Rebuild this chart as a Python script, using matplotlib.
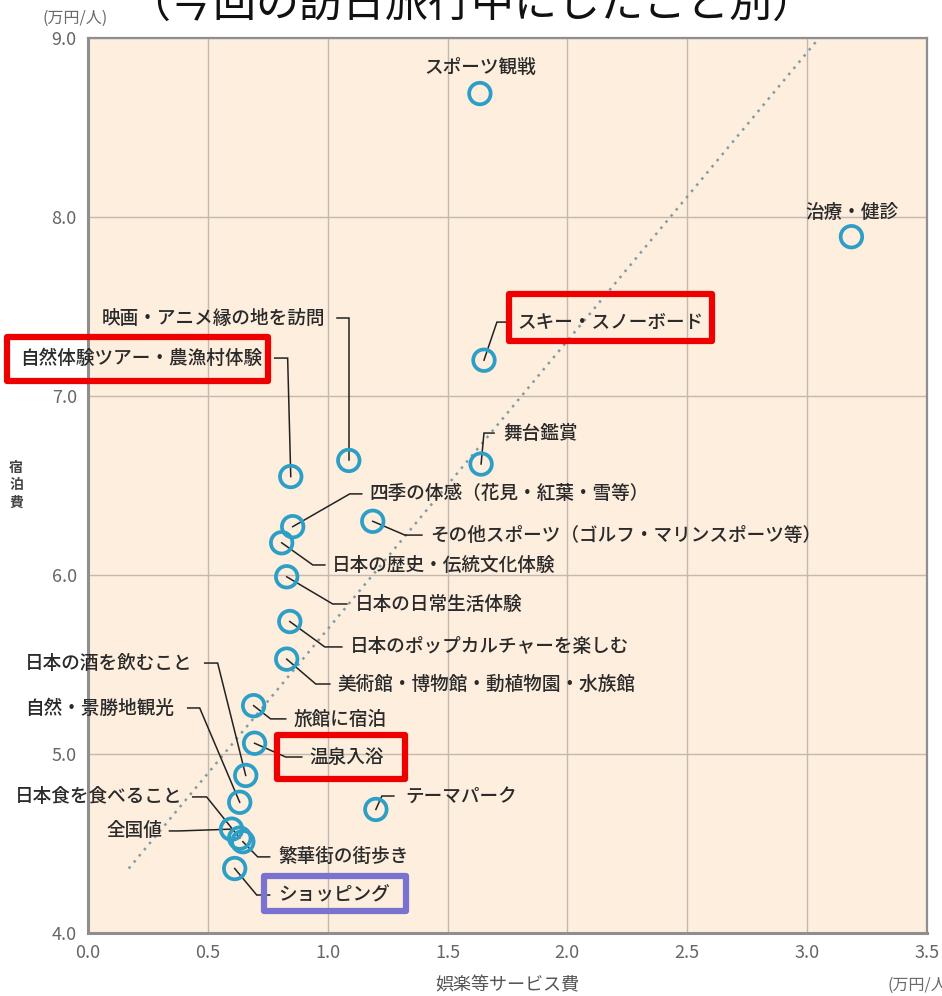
import matplotlib
matplotlib.use("Agg")
import matplotlib.pyplot as plt
from matplotlib.patches import Rectangle

plt.rcParams['font.family'] = ['Noto Sans CJK JP', 'DejaVu Sans']

# ---------------- data ----------------
names = [
    "スポーツ観戦", "治療・健診", "スキー・スノーボード", "映画・アニメ縁の地を訪問",
    "自然体験ツアー・農漁村体験", "舞台鑑賞", "四季の体感（花見・紅葉・雪等）",
    "その他スポーツ（ゴルフ・マリンスポーツ等）", "日本の歴史・伝統文化体験",
    "日本の日常生活体験", "日本のポップカルチャーを楽しむ",
    "美術館・博物館・動植物園・水族館", "旅館に宿泊", "温泉入浴", "テーマパーク",
    "日本の酒を飲むこと", "自然・景勝地観光", "日本食を食べること", "全国値",
    "繁華街の街歩き", "ショッピング",
]
entertainment = [1.635, 3.185, 1.652, 1.088, 0.846, 1.640, 0.854, 1.188, 0.808,
                 0.829, 0.842, 0.829, 0.691, 0.695, 1.201, 0.658, 0.633, 0.633,
                 0.599, 0.646, 0.612]
lodging = [8.69, 7.89, 7.20, 6.64, 6.55, 6.62, 6.27, 6.30, 6.18,
           5.99, 5.74, 5.53, 5.27, 5.06, 4.69, 4.88, 4.73, 4.53,
           4.58, 4.51, 4.36]

trend_x = [0.17, 3.05]
trend_y = [4.36, 9.0]

x_ticks = [0.0, 0.5, 1.0, 1.5, 2.0, 2.5, 3.0, 3.5]
y_ticks = [4.0, 5.0, 6.0, 7.0, 8.0, 9.0]

# ---------------- layout (label anchors, leader stubs) ----------------
# (text_x, text_y, ha, stub_start_x, stub_end_x) ; stub None => no leader
layout = [
    (1.635, 8.838, 'center', None, None),
    (3.185, 8.028, 'center', None, None),
    (1.790, 7.413, 'left', 1.752, 1.706),
    (0.988, 7.436, 'right', 1.038, 1.088),
    (0.725, 7.212, 'right', 0.779, 0.833),
    (1.731, 6.793, 'left', 1.694, 1.652),
    (1.176, 6.453, 'left', 1.142, 1.092),
    (1.426, 6.223, 'left', 1.393, 1.322),
    (1.017, 6.056, 'left', 0.988, 0.938),
    (1.113, 5.838, 'left', 1.080, 1.021),
    (1.092, 5.598, 'left', 1.059, 0.988),
    (1.042, 5.391, 'left', 1.009, 0.950),
    (0.858, 5.196, 'left', 0.825, 0.762),
    (0.925, 4.983, 'left', 0.892, 0.825),
    (1.322, 4.765, 'left', 1.276, 1.226),
    (0.437, 5.508, 'right', 0.487, 0.541),
    (0.361, 5.257, 'right', 0.416, 0.466),
    (0.395, 4.760, 'right', 0.437, 0.495),
    (0.311, 4.570, 'right', 0.340, 0.380),
    (0.792, 4.425, 'left', 0.758, 0.708),
    (0.792, 4.212, 'left', 0.758, 0.704),
]
# highlight boxes: (x0, y0, x1, y1, color)
boxes = [
    (1.757, 7.307, 2.605, 7.570, '#ee0000'),
    (-0.336, 7.084, 0.750, 7.330, '#ee0000'),
    (0.787, 4.860, 1.322, 5.106, '#ee0000'),
    (0.733, 4.123, 1.326, 4.318, '#7a72cf'),
]

# ---------------- figure ----------------
fig = plt.figure(figsize=(9.42, 9.96), dpi=100)
ax = fig.add_axes([0.0934, 0.0633, 0.8906, 0.8985])
ax.set_facecolor('#fdeede')
ax.set_xlim(0, 3.5)
ax.set_ylim(4.0, 9.0)
ax.set_xticks(x_ticks)
ax.set_yticks(y_ticks)
ax.set_xticklabels([f"{v:.1f}" for v in x_ticks])
ax.set_yticklabels([f"{v:.1f}" for v in y_ticks])
ax.tick_params(length=0, labelsize=13, labelcolor='#666666', pad=8)
ax.grid(True, color='#c2b9b0', lw=1.0)
ax.set_axisbelow(True)
for s in ax.spines.values():
    s.set_color('#8e8e8e')
    s.set_linewidth(1.6)
ax.spines['left'].set_linewidth(2.2)
ax.spines['bottom'].set_linewidth(2.2)

# trend line
ax.plot(trend_x, trend_y, linestyle=(0, (1, 2.2)), color='#7f9ca4', lw=1.8, zorder=2)

# leaders
for (tx, ty, ha, s0, s1), px, py in zip(layout, entertainment, lodging):
    if s0 is None:
        continue
    ax.plot([s0, s1, px], [ty, ty, py], color='#222222', lw=1.1, zorder=3,
            clip_on=False, solid_joinstyle='miter')

# points
ax.scatter(entertainment, lodging, s=240, facecolors='none', edgecolors='#2d9fc6',
           linewidths=2.7, zorder=4)

# labels
for name, (tx, ty, ha, s0, s1) in zip(names, layout):
    ax.text(tx, ty, name, ha=ha, va='center', fontsize=13.4, color='#2a2a2a',
            fontweight='medium', zorder=5, clip_on=False)

# highlight boxes
for x0, y0, x1, y1, c in boxes:
    ax.add_patch(Rectangle((x0, y0), x1 - x0, y1 - y0, fill=False, ec=c, lw=4.5,
                           joinstyle='round', clip_on=False, zorder=6))

# axis texts
fig.text(0.5, 0.994, "（今回の訪日旅行中にしたこと別）", ha='center', va='center',
         fontsize=31, color='#111111')
fig.text(0.080, 0.982, "(万円/人)", ha='center', va='center', fontsize=11.5, color='#6a6a6a')
fig.text(0.538, 0.011, "娯楽等サービス費", ha='center', va='center', fontsize=13, color='#555555')
fig.text(0.942, 0.011, "(万円/人)", ha='left', va='center', fontsize=11.5, color='#6a6a6a')
fig.text(0.017, 0.513, "宿\n泊\n費", ha='center', va='center', fontsize=10, color='#444444',
         fontweight='bold', linespacing=1.3)

fig.savefig("out.png", dpi=100)
